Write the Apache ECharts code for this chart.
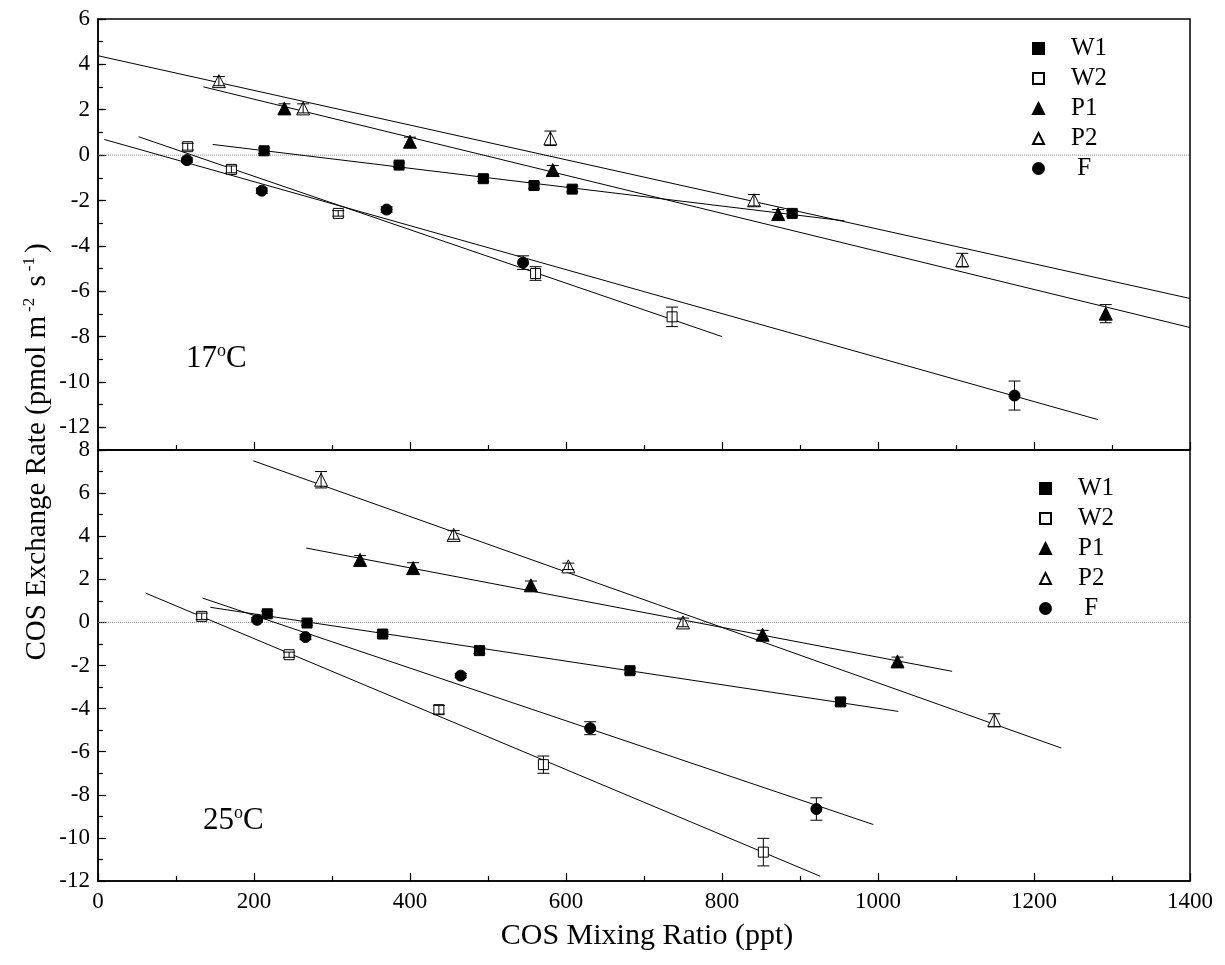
<!DOCTYPE html>
<html>
<head>
<meta charset="utf-8">
<title>COS Exchange Rate vs COS Mixing Ratio</title>
<script src="https://cdn.jsdelivr.net/npm/echarts@6/dist/echarts.min.js"></script>
<style>
  html, body { margin: 0; padding: 0; background: #fff; }
  #chart { width: 1225px; height: 965px; }
</style>
</head>
<body>
<div id="chart"></div>
<script>
// tick labels
const xTicks = [0, 200, 400, 600, 800, 1000, 1200, 1400];
const yTicks17 = [-12, -10, -8, -6, -4, -2, 0, 2, 4, 6];
const yTicks25 = [-12, -10, -8, -6, -4, -2, 0, 2, 4, 6, 8];
const groups = ['W1', 'W2', 'P1', 'P2', 'F'];

// 17 oC panel: [mixing ratio, exchange rate, error]
const W1_17 = [[213, 0.19, 0.12], [386, -0.44, 0.1], [494, -1.04, 0.12], [559, -1.34, 0.14], [608, -1.5, 0.12], [890, -2.57, 0.12]];
const W2_17 = [[115, 0.37, 0.15], [171, -0.63, 0.15], [308, -2.57, 0.12], [561, -5.22, 0.3], [736, -7.13, 0.43]];
const P1_17 = [[239, 2.06, 0.2], [400, 0.59, 0.2], [583, -0.66, 0.2], [872, -2.6, 0.2], [1292, -6.99, 0.4]];
const P2_17 = [[155, 3.26, 0.2], [263, 2.06, 0.2], [580, 0.74, 0.32], [841, -1.99, 0.25], [1108, -4.63, 0.3]];
const F_17 = [[114, -0.22, 0.1], [210, -1.57, 0.12], [370, -2.4, 0.12], [545, -4.74, 0.3], [1175, -10.6, 0.64]];

// 17 oC regression lines: [start, end]
const W1_17_fit = [[147, 0.47], [957, -2.9]];
const W2_17_fit = [[52, 0.81], [800, -8.0]];
const P1_17_fit = [[135, 3.01], [1400, -7.6]];
const P2_17_fit = [[0, 4.38], [1400, -6.32]];
const F_17_fit = [[8, 0.69], [1282, -11.66]];

// 25 oC panel
const W1_25 = [[217, 0.4, 0.12], [268, -0.03, 0.1], [365, -0.54, 0.1], [489, -1.31, 0.14], [682, -2.24, 0.12], [952, -3.69, 0.15]];
const W2_25 = [[133, 0.28, 0.15], [245, -1.5, 0.12], [437, -4.05, 0.2], [571, -6.6, 0.4], [853, -10.66, 0.64]];
const P1_25 = [[336, 2.9, 0.2], [404, 2.52, 0.25], [555, 1.72, 0.2], [852, -0.57, 0.2], [1025, -1.81, 0.2]];
const P2_25 = [[286, 6.62, 0.38], [456, 4.06, 0.2], [603, 2.6, 0.15], [750, 0.0, 0.2], [1149, -4.54, 0.3]];
const F_25 = [[204, 0.12, 0.1], [266, -0.68, 0.12], [465, -2.47, 0.1], [631, -4.91, 0.3], [921, -8.66, 0.52]];

// 25 oC regression lines
const W1_25_fit = [[144, 0.7], [1026, -4.13]];
const W2_25_fit = [[61, 1.36], [926, -11.78]];
const P1_25_fit = [[267, 3.45], [1095, -2.27]];
const P2_25_fit = [[199, 7.5], [1235, -5.83]];
const F_25_fit = [[134, 1.13], [994, -9.38]];

const zeroLine = [[0, 0], [1400, 0]];

const FONT = '"Liberation Serif", "Times New Roman", serif';

const marks = {
    W1: { symbol: 'rect', size: 10, fill: '#000' },
    W2: { symbol: 'rect', size: 10, fill: '#fff' },
    P1: { symbol: 'triangle', size: 13, fill: '#000' },
    P2: { symbol: 'triangle', size: 13, fill: '#fff' },
    F: { symbol: 'circle', size: 11, fill: '#000' },
};

function errorBars(gi, pts) {
    return {
        type: 'custom',
        xAxisIndex: gi,
        yAxisIndex: gi === 0 ? 0 : 2,
        z: 5,
        silent: true,
        encode: { x: 0, y: 1 },
        data: pts,
        renderItem: (params, api) => {
            const x = api.value(0);
            const y = api.value(1);
            const e = api.value(2);
            const top = api.coord([x, y + e]);
            const bot = api.coord([x, y - e]);
            const w = 6;
            const st = { stroke: '#000', lineWidth: 1 };
            return {
                type: 'group',
                children: [
                    { type: 'line', shape: { x1: top[0], y1: top[1], x2: bot[0], y2: bot[1] }, style: st },
                    { type: 'line', shape: { x1: top[0] - w, y1: top[1], x2: top[0] + w, y2: top[1] }, style: st },
                    { type: 'line', shape: { x1: bot[0] - w, y1: bot[1], x2: bot[0] + w, y2: bot[1] }, style: st },
                ],
            };
        },
    };
}

function groupSeries(gi, name, pts, fit) {
    const m = marks[name];
    const yi = gi === 0 ? 0 : 2;
    return [
        {
            type: 'line',
            xAxisIndex: gi,
            yAxisIndex: yi,
            data: fit,
            symbol: 'none',
            silent: true,
            z: 2,
            lineStyle: { color: '#000', width: 1 },
        },
        {
            name: name,
            type: 'scatter',
            xAxisIndex: gi,
            yAxisIndex: yi,
            data: pts.map(p => [p[0], p[1]]),
            symbol: m.symbol,
            symbolSize: m.size,
            z: 4,
            itemStyle: { color: m.fill, borderColor: '#000', borderWidth: 1, opacity: 1 },
        },
        errorBars(gi, pts),
    ];
}

const chart = echarts.init(document.getElementById('chart'));

const labelStyle = { color: '#000', fontFamily: FONT, fontSize: 23 };

const xAxisBase = {
    type: 'value',
    min: 0,
    max: 1400,
    interval: 200,
    axisLine: { show: true, onZero: false, lineStyle: { color: '#000', width: 1.5 } },
    axisTick: { show: true, inside: true, length: 8, lineStyle: { color: '#000', width: 1.2 } },
    minorTick: { show: true, splitNumber: 2, length: 5, lineStyle: { color: '#000', width: 1.2 } },
    splitLine: { show: false },
};

const legendBase = {
    orient: 'vertical',
    data: groups,
    itemWidth: 11,
    itemHeight: 11,
    itemGap: 5,
    selectedMode: false,
    formatter: name => (name === 'F' ? ' F' : name),
    textStyle: { color: '#000', fontFamily: FONT, fontSize: 25, lineHeight: 25, padding: [0, 0, 0, 22] },
};

const option = {
    backgroundColor: '#fff',
    animation: false,
    grid: [
        { left: 98, top: 19, width: 1092, height: 431, show: true, borderColor: '#000', borderWidth: 1.5 },
        { left: 98, top: 450, width: 1092, height: 431, show: true, borderColor: '#000', borderWidth: 1.5 },
    ],
    xAxis: [
        Object.assign({}, xAxisBase, { gridIndex: 0, axisLabel: { show: false } }),
        Object.assign({}, xAxisBase, {
            gridIndex: 1,
            axisLabel: Object.assign({ margin: 9, customValues: xTicks, formatter: v => String(v) }, labelStyle),
        }),
    ],
    yAxis: [
        {
            type: 'value',
            gridIndex: 0,
            min: -13,
            max: 6,
            axisLine: { show: true, onZero: false, lineStyle: { color: '#000', width: 1.5 } },
            axisTick: { show: true, inside: true, length: 8, customValues: yTicks17, lineStyle: { color: '#000', width: 1.2 } },
            axisLabel: Object.assign({ margin: 8, customValues: yTicks17 }, labelStyle),
            splitLine: { show: false },
        },
        {
            // minor ticks for the upper panel
            type: 'value',
            gridIndex: 0,
            position: 'left',
            min: -13,
            max: 6,
            interval: 1,
            axisLine: { show: false, onZero: false },
            axisTick: { show: true, inside: true, length: 5, lineStyle: { color: '#000', width: 1.2 } },
            axisLabel: { show: false },
            splitLine: { show: false },
        },
        {
            type: 'value',
            gridIndex: 1,
            min: -12,
            max: 8,
            interval: 2,
            axisLine: { show: true, onZero: false, lineStyle: { color: '#000', width: 1.5 } },
            axisTick: { show: true, inside: true, length: 8, lineStyle: { color: '#000', width: 1.2 } },
            minorTick: { show: true, splitNumber: 2, length: 5, lineStyle: { color: '#000', width: 1.2 } },
            axisLabel: Object.assign({ margin: 8, customValues: yTicks25 }, labelStyle),
            splitLine: { show: false },
        },
    ],
    legend: [
        Object.assign({}, legendBase, { left: 1027, top: 31 }),
        Object.assign({}, legendBase, { left: 1034, top: 471 }),
    ],
    graphic: [
        {
            type: 'text',
            left: 186,
            top: 342,
            style: {
                text: '{a|17}{s|o}{a|C}',
                rich: {
                    a: { fontFamily: FONT, fontSize: 31, fill: '#000', lineHeight: 34 },
                    s: { fontFamily: FONT, fontSize: 18, fill: '#000', verticalAlign: 'top', lineHeight: 34 },
                },
            },
        },
        {
            type: 'text',
            left: 203,
            top: 804,
            style: {
                text: '{a|25}{s|o}{a|C}',
                rich: {
                    a: { fontFamily: FONT, fontSize: 31, fill: '#000', lineHeight: 34 },
                    s: { fontFamily: FONT, fontSize: 18, fill: '#000', verticalAlign: 'top', lineHeight: 34 },
                },
            },
        },
        {
            type: 'text',
            x: 37,
            y: 452,
            rotation: Math.PI / 2,
            style: {
                text: '{a|COS Exchange Rate (pmol m}{s|-2}{a| s}{s|-1}{a|)}',
                align: 'center',
                verticalAlign: 'middle',
                rich: {
                    a: { fontFamily: FONT, fontSize: 29, fill: '#000', lineHeight: 32 },
                    s: { fontFamily: FONT, fontSize: 17, fill: '#000', verticalAlign: 'top', lineHeight: 32, padding: [0, 4, 0, 4] },
                },
            },
        },
        {
            type: 'text',
            x: 647,
            y: 936,
            style: {
                text: 'COS Mixing Ratio (ppt)',
                align: 'center',
                verticalAlign: 'middle',
                fontFamily: FONT,
                fontSize: 30,
                fill: '#000',
            },
        },
    ],
    series: [
        {
            type: 'line',
            xAxisIndex: 0,
            yAxisIndex: 0,
            data: zeroLine,
            symbol: 'none',
            silent: true,
            z: 1,
            lineStyle: { color: '#888', width: 1, type: 'dotted' },
        },
        {
            type: 'line',
            xAxisIndex: 1,
            yAxisIndex: 2,
            data: zeroLine,
            symbol: 'none',
            silent: true,
            z: 1,
            lineStyle: { color: '#888', width: 1, type: 'dotted' },
        },
        ...groupSeries(0, 'W1', W1_17, W1_17_fit),
        ...groupSeries(0, 'W2', W2_17, W2_17_fit),
        ...groupSeries(0, 'P1', P1_17, P1_17_fit),
        ...groupSeries(0, 'P2', P2_17, P2_17_fit),
        ...groupSeries(0, 'F', F_17, F_17_fit),
        ...groupSeries(1, 'W1', W1_25, W1_25_fit),
        ...groupSeries(1, 'W2', W2_25, W2_25_fit),
        ...groupSeries(1, 'P1', P1_25, P1_25_fit),
        ...groupSeries(1, 'P2', P2_25, P2_25_fit),
        ...groupSeries(1, 'F', F_25, F_25_fit),
    ],
};

chart.setOption(option);

window.addEventListener('resize', () => chart.resize());
</script>
</body>
</html>
